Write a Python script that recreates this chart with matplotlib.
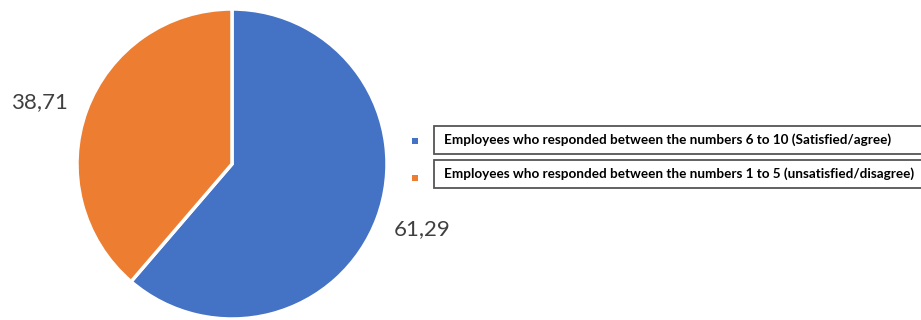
import numpy as np
import matplotlib.pyplot as plt
from matplotlib.patches import Rectangle

# survey results (percent)
labels = ['Employees who responded between the numbers 6 to 10 (Satisfied/agree)',
          'Employees who responded between the numbers 1 to 5 (unsatisfied/disagree)']
values = [61.29, 38.71]
colors = ['#4472C4', '#ED7D31']

plt.rcParams['font.family'] = ['Lato', 'DejaVu Sans']

W, H = 921, 320
fig = plt.figure(figsize=(W / 100, H / 100), dpi=100)

# pie axes: centre (232, 164) px, radius 155 px
r = 155
ax = fig.add_axes([(232 - r) / W, (H - 164 - r) / H, 2 * r / W, 2 * r / H])
wedges, _ = ax.pie(values, colors=colors, startangle=90, counterclock=False,
                   wedgeprops=dict(edgecolor='white', linewidth=2.5))
ax.set_aspect('equal')
ax.set_xlim(-1, 1)
ax.set_ylim(-1, 1)

# value labels outside the slices
label_pos = [(1.226, -0.42), (-1.245, 0.40)]
for v, (x, y) in zip(values, label_pos):
    ax.text(x, y, f'{v:.2f}'.replace('.', ','), ha='center', va='center',
            fontsize=16, color='#404040', clip_on=False)

# legend with boxed entries
rows = [140, 174]
marks = [141, 178]
for lab, c, y, m in zip(labels, colors, rows, marks):
    fig.add_artist(Rectangle((412 / W, 1 - (m + 3) / H), 6 / W, 6 / H,
                             transform=fig.transFigure, facecolor=c, edgecolor='none'))
    fig.add_artist(Rectangle((434 / W, 1 - (y + 14) / H), 495 / W, 28 / H,
                             transform=fig.transFigure, facecolor='white',
                             edgecolor='#555555', linewidth=1.3))
    fig.text(444 / W, 1 - y / H, lab, ha='left', va='center', fontsize=9.75,
             fontweight='bold', color='#000000')

fig.savefig('out.png', dpi=100)
